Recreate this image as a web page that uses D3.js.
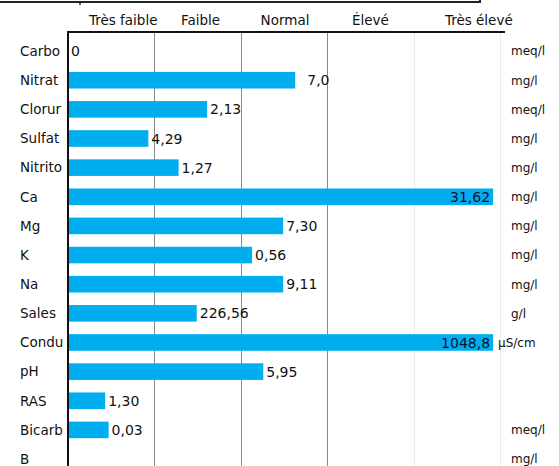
<!DOCTYPE html>
<html><head><meta charset="utf-8">
<script src="https://cdn.jsdelivr.net/npm/d3@7"></script>
<style>html,body{margin:0;padding:0;background:#fff;overflow:hidden}</style>
</head><body>
<svg id="c" width="559" height="466"></svg>
<script>
const categories = ["Carbonatos","Nitratos","Cloruros","Sulfatos","Nitritos","Ca","Mg","K","Na","Sales","Conductividad","pH","RAS","Bicarbonatos","B"];
const levels = [0, 2.63, 1.61, 0.93, 1.28, 4.92, 2.49, 2.13, 2.49, 1.49, 4.92, 2.26, 0.43, 0.47, null];
const valueLabels = ["0","7,0","2,13","4,29","1,27","31,62","7,30","0,56","9,11","226,56","1048,8","5,95","1,30","0,03",""];
const units = ["meq/l","mg/l","meq/l","mg/l","mg/l","mg/l","mg/l","mg/l","mg/l","g/l","µS/cm","","","meq/l","mg/l"];
const classes = ["Très faible","Faible","Normal","Élevé","Très élevé"];

const svg = d3.select("#c");
const font = "DejaVu Sans, Verdana, sans-serif";
const x0 = 68, x1 = 500, yTop = 32;

const x = d3.scaleLinear().domain([0, classes.length]).range([x0, x1]);
const y = d3.scaleBand().domain(categories).range([36.5, 36.5 + 29.14*categories.length]).paddingInner(0.43).paddingOuter(0.215);
const cls = d3.scaleBand().domain(classes).range([x0, x1]);

// top box remnant
svg.append("rect").attr("x",-2).attr("y",-30).attr("width",482).attr("height",32)
  .attr("fill","none").attr("stroke","#222").attr("stroke-width",2);
svg.append("line").attr("x1",80).attr("x2",80).attr("y1",1).attr("y2",5).attr("stroke","#222").attr("stroke-width",1.5);

// gridlines
const gridX = d3.range(1, classes.length+1);
svg.append("g").selectAll("line").data(gridX).join("line")
  .attr("x1", d=>Math.round(x(d))+0.5).attr("x2", d=>Math.round(x(d))+0.5)
  .attr("y1", yTop).attr("y2", 466)
  .attr("stroke", d => d <= 3 ? "#8a8a8a" : "#ececec").attr("stroke-width",1);

// header labels
const nudges = [12, 3, 1, 0, 22];
svg.append("g").selectAll("text").data(classes).join("text")
  .attr("x", (d,i)=>cls(d)+cls.bandwidth()/2+nudges[i]).attr("y", 25)
  .attr("text-anchor","middle").attr("font-family",font).attr("font-size",13.5).attr("fill","#111")
  .text(d=>d);

// bars
svg.append("g").selectAll("rect").data(categories).join("rect")
  .filter((d,i)=>levels[i] !== null && levels[i] > 0)
  .attr("x", x(0)).attr("y", d=>y(d)).attr("height", y.bandwidth())
  .attr("width", d => x(levels[categories.indexOf(d)]) - x(0))
  .attr("fill","#00aeef");

// value labels
svg.append("g").selectAll("text").data(categories).join("text")
  .each(function(d,i){
    const v = levels[i]; if (v === null) return;
    const end = x(v);
    const inside = v > 4.5;
    d3.select(this)
      .attr("x", inside ? end-3 : end+ (i===1 ? 12 : 3))
      .attr("y", y(d)+y.bandwidth()/2)
      .attr("dy","0.36em")
      .attr("text-anchor", inside ? "end" : "start")
      .attr("font-family",font).attr("font-size",14)
      .attr("fill", inside ? "#101030" : "#111")
      .text(valueLabels[i]);
  });

// category labels (truncated to fit left of axis)
svg.append("g").selectAll("text").data(categories).join("text")
  .attr("x", 20).attr("y", d=>y(d)+y.bandwidth()/2).attr("dy","0.36em")
  .attr("font-family",font).attr("font-size",13.5).attr("fill","#111")
  .text(d=>d)
  .each(function(d){
    const t = d3.select(this);
    let s = d;
    while (this.getComputedTextLength() > 45 && s.length > 1) { s = s.slice(0,-1); t.text(s); }
  });

// units
svg.append("g").selectAll("text").data(categories).join("text")
  .attr("x", (d,i)=> units[i]==="µS/cm" ? 498 : 511).attr("y", d=>y(d)+y.bandwidth()/2).attr("dy","0.36em")
  .attr("font-family",font).attr("font-size",12).attr("fill","#111")
  .text((d,i)=>units[i]);

// axes lines
svg.append("line").attr("x1",x0-1).attr("x2",505).attr("y1",yTop).attr("y2",yTop).attr("stroke","#111").attr("stroke-width",2);
svg.append("line").attr("x1",x0).attr("x2",x0).attr("y1",yTop-1).attr("y2",466).attr("stroke","#111").attr("stroke-width",2);
</script>
</body></html>
